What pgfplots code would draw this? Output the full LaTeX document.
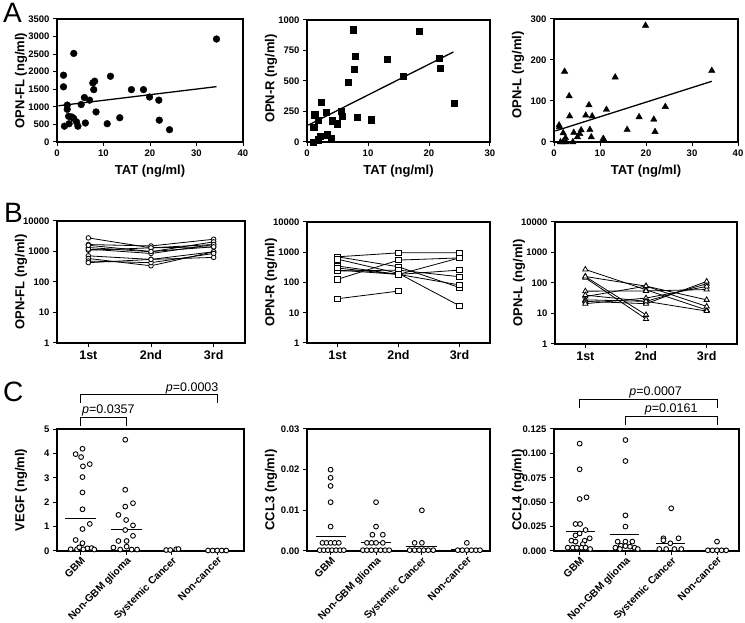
\documentclass[border=0pt]{standalone}
\usepackage{fontspec}
\setmainfont{Liberation Sans}
\usepackage{pgfplots}
\pgfplotsset{compat=1.18}
\pgfplotsset{
  prism/.style={
    scale only axis, anchor=south west, clip=false,
    axis line style={line width=1.1pt},
    tick align=outside, tick pos=left,
    major tick length=4pt, minor tick length=0pt,
    tick style={line width=1pt, black},
    /pgf/number format/assume math mode=true,
    /pgf/number format/1000 sep={},
    ticklabel style={font=\bfseries\fontsize{9.5}{11}\selectfont},
    every axis y label/.style={at={(axis description cs:0,0.5)}, xshift=-36pt, rotate=90, anchor=center, font=\bfseries\fontsize{13}{15}\selectfont},
    every axis x label/.style={at={(axis description cs:0.5,0)}, yshift=-29pt, anchor=center, font=\bfseries\fontsize{13}{15}\selectfont},
  },
  scat/.style={only marks, black, mark options={fill=black}},
  fit/.style={black, line width=1.3pt, no marks},
  bline/.style={black, line width=0.8pt, mark options={fill=white, line width=0.8pt}},
  dots/.style={only marks, black, mark=*, mark size=2.4pt, mark options={fill=white, line width=0.9pt}},
  mean/.style={black, line width=0.9pt, no marks},
  blog/.style={prism, ymin=1, ymax=10000, ytick={1,10,100,1000,10000}, yticklabels={1,10,100,1000,10000},
    xmin=0.5, xmax=3.5, xtick={1,2,3}, xticklabels={1st,2nd,3rd},
    xticklabel style={font=\bfseries\fontsize{12.5}{14}\selectfont}},
  ccat/.style={prism, xtick={0,1,2,3}, xticklabels={GBM,Non-GBM glioma,Systemic Cancer,Non-cancer},
    xticklabel style={rotate=45, anchor=north east, inner sep=0.5pt, font=\bfseries\fontsize{10.3}{12}\selectfont}},
}
\begin{document}
\begin{tikzpicture}
\path[use as bounding box] (0pt,0pt) rectangle (745pt,623pt);
\node[inner sep=0, anchor=base west, font=\fontsize{28}{30}\selectfont] at (3pt,600pt) {A};
\node[inner sep=0, anchor=base west, font=\fontsize{28}{30}\selectfont] at (4pt,400pt) {B};
\node[inner sep=0, anchor=base west, font=\fontsize{28}{30}\selectfont] at (3pt,221pt) {C};

% ---------- A1
\begin{axis}[prism, at={(57pt,481pt)}, width=186pt, height=123pt,
  xmin=0, xmax=40, ymin=0, ymax=3500, xtick={0,10,20,30,40}, ytick={0,500,1000,1500,2000,2500,3000,3500},
  xlabel={TAT (ng/ml)}, ylabel={OPN-FL (ng/ml)}]
\addplot[scat, mark=*, mark size=3.4pt] coordinates {
(1.4,1900)(1.4,1570)(3.6,2520)(1.6,450)(2.2,1050)(2.2,930)(2.5,730)(2.6,520)(3.2,710)(3.6,670)
(4.2,570)(4.5,450)(5.2,1065)(5.9,1265)(6.1,540)(7.0,1190)(7.7,1680)(8.1,1730)(7.9,1490)(8.4,855)
(10.8,520)(11.5,1870)(13.5,690)(16.0,1490)(18.6,1490)(19.9,1280)(21.9,1190)(22.0,620)(24.2,350)(34.3,2930)};
\addplot[fit] coordinates {(0.3,1030) (34.3,1575)};
\end{axis}

% ---------- A2
\begin{axis}[prism, at={(307pt,481pt)}, width=183pt, height=122pt,
  xmin=0, xmax=30, ymin=0, ymax=1000, xtick={0,10,20,30}, ytick={0,250,500,750,1000},
  xlabel={TAT (ng/ml)}, ylabel={OPN-R (ng/ml)}, every axis y label/.append style={xshift=2.5pt}]
\addplot[scat, mark=square*, mark size=3.1pt] coordinates {
(1.0,0)(1.1,123)(1.25,223)(1.8,19)(1.9,177)(2.2,46)(2.3,327)(3.2,242)(3.3,60)(4.0,27)(4.1,174)
(5.0,150)(5.6,250)(5.8,210)(6.7,490)(7.6,921)(7.7,597)(7.9,700)(8.2,204)(10.5,183)(13.2,681)
(15.8,542)(18.4,905)(21.7,687)(21.9,602)(24.1,316)};
\addplot[fit] coordinates {(0.2,138) (24.0,738)};
\end{axis}

% ---------- A3
\begin{axis}[prism, at={(554pt,481pt)}, width=184pt, height=123pt,
  xmin=0, xmax=40, ymin=0, ymax=300, xtick={0,10,20,30,40}, ytick={0,100,200,300},
  xlabel={TAT (ng/ml)}, ylabel={OPN-L (ng/ml)}, every axis y label/.append style={xshift=5.5pt}]
\addplot[scat, mark=triangle*, mark size=3.7pt] coordinates {
(1.1,41)(1.2,37)(1.4,0)(1.96,0)(2.0,22)(2.3,172)(2.5,10)(2.6,0)(3.3,112)(3.4,63)(4.1,0)(4.3,23)
(5.1,12)(5.6,20)(5.9,29)(6.9,65)(7.6,90)(7.8,30)(8.1,12)(8.3,63)(10.7,8)(10.8,6)(11.4,79)(13.3,158)
(15.9,30)(18.5,61)(19.9,284)(21.7,55)(21.96,25)(24.2,86)(34.3,174)};
\addplot[fit] coordinates {(0.3,27) (34.3,148)};
\end{axis}

% ---------- B1
\begin{semilogyaxis}[blog, at={(57pt,280pt)}, width=188pt, height=122pt, ylabel={OPN-FL (ng/ml)}]
\addplot[bline, mark=*, mark size=2.3pt] coordinates {(1,2790)(2,1320)(3,1690)};
\addplot[bline, mark=*, mark size=2.3pt] coordinates {(1,1690)(2,1520)(3,2520)};
\addplot[bline, mark=*, mark size=2.3pt] coordinates {(1,1350)(2,980)(3,2070)};
\addplot[bline, mark=*, mark size=2.3pt] coordinates {(1,1100)(2,1320)(3,1420)};
\addplot[bline, mark=*, mark size=2.3pt] coordinates {(1,1200)(2,860)(3,1690)};
\addplot[bline, mark=*, mark size=2.3pt] coordinates {(1,720)(2,550)(3,980)};
\addplot[bline, mark=*, mark size=2.3pt] coordinates {(1,590)(2,340)(3,980)};
\addplot[bline, mark=*, mark size=2.3pt] coordinates {(1,485)(2,430)(3,860)};
\addplot[bline, mark=*, mark size=2.3pt] coordinates {(1,430)(2,550)(3,640)};
\addplot[bline, mark=*, mark size=2.3pt] coordinates {(1,1600)(2,1000)(3,1420)};
\end{semilogyaxis}

% ---------- B2
\begin{semilogyaxis}[blog, at={(307pt,280pt)}, width=183pt, height=121pt, ylabel={OPN-R (ng/ml)}]
\addplot[bline, mark=square*, mark size=2.8pt] coordinates {(1,707)(2,955)(3,955)};
\addplot[bline, mark=square*, mark size=2.8pt] coordinates {(1,29)(2,52)};
\addplot[bline, mark=square*, mark size=2.8pt] coordinates {(1,127)(2,550)(3,650)};
\addplot[bline, mark=square*, mark size=2.8pt] coordinates {(1,707)(2,330)(3,68)};
\addplot[bline, mark=square*, mark size=2.8pt] coordinates {(1,590)(2,200)(3,17)};
\addplot[bline, mark=square*, mark size=2.8pt] coordinates {(1,350)(2,185)(3,257)};
\addplot[bline, mark=square*, mark size=2.8pt] coordinates {(1,257)(2,185)(3,650)};
\addplot[bline, mark=square*, mark size=2.8pt] coordinates {(1,240)(2,257)(3,155)};
\addplot[bline, mark=square*, mark size=2.8pt] coordinates {(1,300)(2,185)(3,83)};
\end{semilogyaxis}

% ---------- B3
\begin{semilogyaxis}[blog, at={(555pt,279pt)}, width=182pt, height=122pt, ylabel={OPN-L (ng/ml)}]
\addplot[bline, mark=triangle*, mark size=3pt] coordinates {(1,278)(2,60)(3,13)};
\addplot[bline, mark=triangle*, mark size=3pt] coordinates {(1,163)(2,9)};
\addplot[bline, mark=triangle*, mark size=3pt] coordinates {(1,148)(2,6.6)};
\addplot[bline, mark=triangle*, mark size=3pt] coordinates {(1,163)(2,79)(3,17)};
\addplot[bline, mark=triangle*, mark size=3pt] coordinates {(1,54)(2,55)(3,61)};
\addplot[bline, mark=triangle*, mark size=3pt] coordinates {(1,36)(2,79)(3,28)};
\addplot[bline, mark=triangle*, mark size=3pt] coordinates {(1,28)(2,25)(3,94)};
\addplot[bline, mark=triangle*, mark size=3pt] coordinates {(1,25)(2,21)(3,112)};
\addplot[bline, mark=triangle*, mark size=3pt] coordinates {(1,21)(2,32)(3,77)};
\addplot[bline, mark=triangle*, mark size=3pt] coordinates {(1,40)(2,25)(3,12)};
\end{semilogyaxis}

% ---------- C1
\begin{axis}[ccat, at={(57pt,72pt)}, width=187pt, height=122pt,
  xmin=-0.52, xmax=3.59, ymin=0, ymax=5, ytick={0,1,2,3,4,5}, ylabel={VEGF (ng/ml)}]
\addplot[dots] coordinates {
(-0.11,3.97)(0.04,4.19)(0.01,3.85)(0.05,3.47)(0.20,3.56)(0.04,3.03)(0.04,2.40)(0.04,1.71)(0.20,1.11)
(0.04,0.90)(-0.11,0.45)(0.04,0.32)(-0.22,0.07)(-0.08,0.07)(-0.03,0.15)(0.06,0.07)(0.15,0.11)(0.24,0.12)(0.30,0.06)};
\addplot[dots] coordinates {
(0.98,4.56)(0.98,2.51)(1.15,1.96)(0.98,1.82)(0.83,1.48)(1.0,1.27)(1.15,1.05)(0.98,0.86)(1.15,0.62)
(0.83,0.41)(1.01,0.41)(0.72,0.14)(1.01,0.18)(0.87,0.06)(1.12,0.06)(1.24,0.06)};
\addplot[dots] coordinates {(1.88,0.04)(1.97,0.04)(2.1,0.07)(2.15,0.08)};
\addplot[dots] coordinates {(2.8,0.02)(2.9,0.02)(3.0,0.02)(3.1,0.02)(3.2,0.02)};
\addplot[mean] coordinates {(-0.34,1.34)(0.34,1.34)};
\addplot[mean] coordinates {(0.66,0.90)(1.34,0.90)};
\addplot[mean] coordinates {(1.66,0.03)(2.34,0.03)};
\addplot[mean] coordinates {(2.66,0.02)(3.34,0.02)};
\draw[line width=0.8pt] (axis cs:0,5.135) -- (axis cs:0,5.475) -- (axis cs:1,5.475) -- (axis cs:1,5.135);
\draw[line width=0.8pt] (axis cs:0,6.066) -- (axis cs:0,6.405) -- (axis cs:3,6.405) -- (axis cs:3,6.066);
\node[font=\fontsize{12.5}{14}\selectfont] at (axis cs:0.61,5.76) {\textit{p}=0.0357};
\node[font=\fontsize{12.5}{14}\selectfont] at (axis cs:2.45,6.68) {\textit{p}=0.0003};
\end{axis}

% ---------- C2
\begin{axis}[ccat, at={(307pt,72pt)}, width=183pt, height=122pt,
  xmin=-0.52, xmax=3.51, ymin=0, ymax=0.03, ytick={0,0.01,0.02,0.03},
  yticklabel style={/pgf/number format/.cd, fixed, fixed zerofill, precision=2},
  scaled y ticks=false, ylabel={CCL3 (ng/ml)}]
\addplot[dots] coordinates {
(0,0.020)(0,0.018)(0,0.016)(0,0.012)(0,0.006)(-0.18,0.002)(-0.09,0.002)(0,0.002)(0.09,0.002)(0.18,0.002)
(-0.24,0.0002)(-0.15,0.0002)(-0.06,0.0002)(0.03,0.0002)(0.12,0.0002)(0.21,0.0002)(0.29,0.0002)};
\addplot[dots] coordinates {
(1,0.012)(1,0.006)(0.92,0.004)(1.15,0.004)(0.8,0.002)(0.9,0.002)(1.0,0.002)(1.15,0.002)
(0.71,0.0002)(0.8,0.0002)(0.9,0.0002)(1.0,0.0002)(1.1,0.0002)(1.2,0.0002)(1.29,0.0002)};
\addplot[dots] coordinates {
(2.01,0.010)(1.85,0.002)(2.01,0.002)(1.74,0.0002)(1.85,0.0002)(1.95,0.0002)(2.05,0.0002)(2.15,0.0002)(2.26,0.0002)};
\addplot[dots] coordinates {
(3,0.002)(2.8,0.0002)(2.9,0.0002)(3.0,0.0002)(3.1,0.0002)(3.2,0.0002)(3.29,0.0002)};
\addplot[mean] coordinates {(-0.32,0.0036)(0.33,0.0036)};
\addplot[mean] coordinates {(0.66,0.002)(1.34,0.002)};
\addplot[mean] coordinates {(1.66,0.001)(2.34,0.001)};
\addplot[mean] coordinates {(2.66,0.0003)(3.34,0.0003)};
\end{axis}

% ---------- C3
\begin{axis}[ccat, at={(554pt,72pt)}, width=185pt, height=122pt,
  xmin=-0.56, xmax=3.48, ymin=0, ymax=0.125, ytick={0,0.025,0.05,0.075,0.1,0.125},
  yticklabel style={/pgf/number format/.cd, fixed, fixed zerofill, precision=3},
  scaled y ticks=false, ylabel={CCL4 (ng/ml)}]
\addplot[dots] coordinates {
(0,0.110)(0,0.0837)(0,0.0533)(0.15,0.055)(-0.09,0.0277)(0.01,0.0277)(0.13,0.0215)(-0.09,0.016)(0,0.018)
(0.22,0.013)(-0.18,0.0106)(-0.09,0.0096)(0.11,0.0106)(0.07,0.007)(-0.26,0.0034)(-0.15,0.0034)(-0.06,0.0034)
(0.04,0.0034)(0.13,0.0034)(0.23,0.002)};
\addplot[dots] coordinates {
(1,0.1137)(1,0.0922)(1,0.0365)(1,0.025)(0.83,0.0096)(1,0.0096)(1.15,0.0096)(0.78,0.0034)(0.9,0.0055)
(1,0.005)(1.1,0.0044)(1.2,0.0034)(0.88,0.002)(1.27,0.002)};
\addplot[dots] coordinates {
(2,0.0437)(1.83,0.013)(1.83,0.011)(2.16,0.013)(1.98,0.0079)(1.74,0.002)(1.89,0.002)(2.07,0.002)(2.22,0.002)};
\addplot[dots] coordinates {(3,0.0096)(2.8,0.0007)(2.9,0.0007)(3,0.0007)(3.1,0.0007)(3.2,0.0007)};
\addplot[mean] coordinates {(-0.29,0.0205)(0.33,0.0205)};
\addplot[mean] coordinates {(0.66,0.0174)(1.3,0.0174)};
\addplot[mean] coordinates {(1.66,0.0079)(2.3,0.0079)};
\addplot[mean] coordinates {(2.66,0.0007)(3.3,0.0007)};
\draw[line width=0.8pt] (axis cs:0,0.1468) -- (axis cs:0,0.1554) -- (axis cs:3,0.1554) -- (axis cs:3,0.1468);
\draw[line width=0.8pt] (axis cs:1,0.129) -- (axis cs:1,0.1376) -- (axis cs:3,0.1376) -- (axis cs:3,0.129);
\node[font=\fontsize{12.5}{14}\selectfont] at (axis cs:1.66,0.1622) {\textit{p}=0.0007};
\node[font=\fontsize{12.5}{14}\selectfont] at (axis cs:2.0,0.1452) {\textit{p}=0.0161};
\end{axis}
\end{tikzpicture}
\end{document}
